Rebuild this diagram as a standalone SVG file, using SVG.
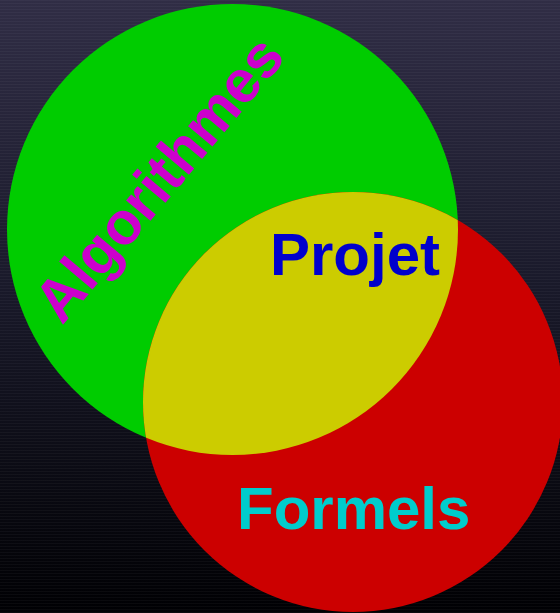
<svg xmlns="http://www.w3.org/2000/svg" width="560" height="613" viewBox="0 0 560 613">
  <defs>
    <linearGradient id="bg" x1="0" y1="0" x2="0" y2="1">
      <stop offset="0" stop-color="#302d45"/>
      <stop offset="0.45" stop-color="#1a1a2b"/>
      <stop offset="1" stop-color="#000003"/>
    </linearGradient>
    <pattern id="stripes" width="8" height="3" patternUnits="userSpaceOnUse">
      <rect x="0" y="0" width="8" height="1" fill="#ffffff" fill-opacity="0.035"/>
    </pattern>
    <clipPath id="greenClip">
      <circle cx="232.5" cy="229.5" r="225.5"/>
    </clipPath>
  </defs>
  <style>
    .lbl { font-family: "Liberation Sans", Arial, sans-serif; font-weight: bold; font-size: 60px; }
  </style>
  <rect width="560" height="613" fill="url(#bg)"/>
  <rect width="560" height="613" fill="url(#stripes)"/>
  <g id="algorithmes">
    <circle cx="232.5" cy="229.5" r="225.5" fill="#00cc00"/>
  </g>
  <g id="formels">
    <circle cx="353" cy="402" r="210" fill="#cc0000"/>
  </g>
  <g id="projet">
    <circle cx="353" cy="402" r="210" fill="#cccc00" clip-path="url(#greenClip)"/>
  </g>
  <g id="labels">
    <text class="lbl" fill="#cc00cc" transform="translate(62,326) rotate(-50)">Algorithmes</text>
    <text class="lbl" fill="#0000cc" x="270" y="275">Projet</text>
    <text class="lbl" fill="#00cccc" x="237" y="529">Formels</text>
  </g>
</svg>
